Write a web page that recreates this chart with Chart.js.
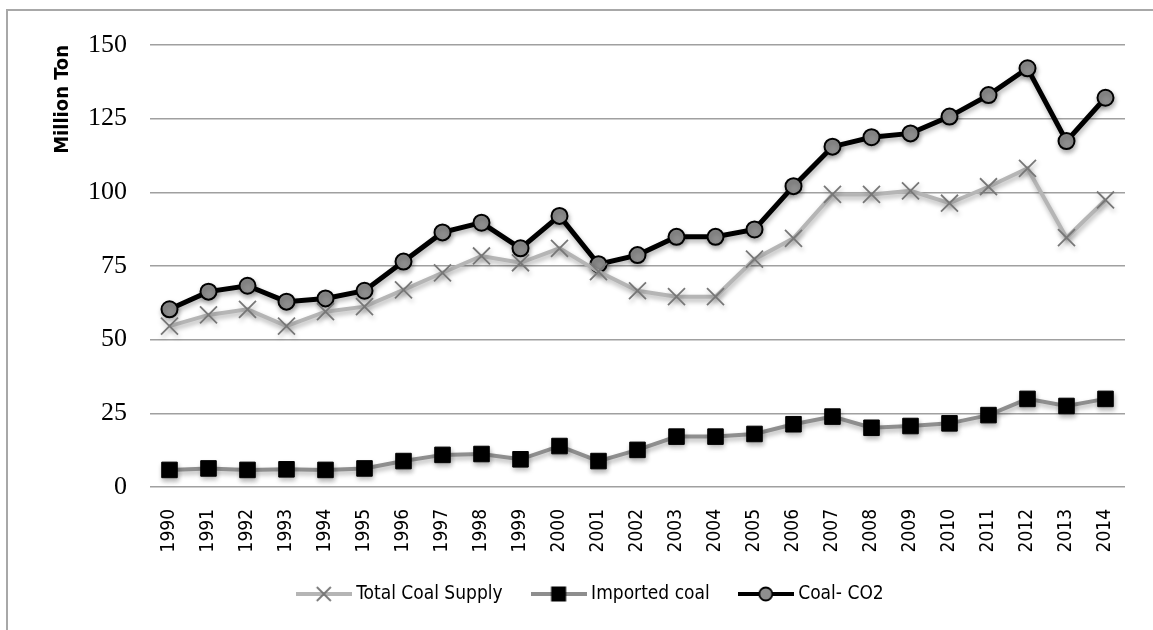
<!DOCTYPE html>
<html>
<head>
<meta charset="utf-8">
<script src="https://cdn.jsdelivr.net/npm/chart.js@4.4.0/dist/chart.umd.min.js"></script>
<style>
html, body { margin: 0; padding: 0; background: #fff; overflow: hidden; }
#frame { position: absolute; left: 6px; top: 9px; width: 1400px; height: 900px; border: 2px solid #a8a8a8; }
#wrap { position: absolute; left: 0; top: 0; width: 1153px; height: 630px; }
</style>
</head>
<body>
<div id="frame"></div>
<div id="wrap"><canvas id="chart" width="1153" height="630"></canvas></div>
<script>
// values (million ton)
const years = ['1990','1991','1992','1993','1994','1995','1996','1997','1998','1999','2000','2001','2002',
               '2003','2004','2005','2006','2007','2008','2009','2010','2011','2012','2013','2014'];
const totalCoalSupply = [54.6, 58.4, 60.3, 54.6, 59.5, 61.2, 66.9, 72.7, 78.4, 76.1, 81.0, 73.1, 66.6,
                         64.6, 64.6, 77.3, 84.4, 99.3, 99.3, 100.5, 96.3, 101.9, 108.1, 84.6, 97.4];
const importedCoal = [5.8, 6.3, 5.8, 6.0, 5.8, 6.3, 8.8, 10.9, 11.2, 9.4, 13.9, 8.8, 12.6,
                      17.1, 17.1, 18.0, 21.3, 23.9, 20.1, 20.7, 21.6, 24.4, 29.9, 27.5, 29.9];
const coalCO2 = [60.3, 66.3, 68.3, 62.9, 64.0, 66.6, 76.5, 86.4, 89.7, 81.0, 92.0, 75.6, 78.7,
                 84.9, 84.9, 87.4, 102.1, 115.5, 118.7, 120.0, 125.7, 133.0, 142.1, 117.4, 132.1];
const yTicks = [0, 25, 50, 75, 100, 125, 150];

const narrow = "'DejaVu Sans Condensed', 'Liberation Sans Narrow', sans-serif";

// little line+marker pictures for the legend
function legendSymbol(kind) {
  const c = document.createElement('canvas');
  c.width = 56; c.height = 22;
  const g = c.getContext('2d');
  g.lineWidth = 4;
  g.strokeStyle = kind == 'x' ? '#b5b5b5' : (kind == 'sq' ? '#8e8e8e' : '#000');
  g.beginPath(); g.moveTo(0, 11); g.lineTo(56, 11); g.stroke();
  if (kind == 'x') {
    g.strokeStyle = '#777'; g.lineWidth = 1.8;
    g.beginPath();
    g.moveTo(21, 4); g.lineTo(35, 18);
    g.moveTo(35, 4); g.lineTo(21, 18);
    g.stroke();
  } else if (kind == 'sq') {
    g.fillStyle = '#000';
    g.fillRect(20.5, 3.5, 15, 15);
  } else {
    g.fillStyle = '#8e8e8e'; g.strokeStyle = '#000'; g.lineWidth = 1.8;
    g.beginPath(); g.arc(28, 11, 6.5, 0, Math.PI * 2); g.fill(); g.stroke();
  }
  return c;
}
const symbols = [legendSymbol('x'), legendSymbol('sq'), legendSymbol('o')];

// soft drop shadow under lines and markers, like the original
const shadowPlugin = {
  id: 'shadow',
  beforeDatasetsDraw(chart) {
    const c = chart.ctx;
    c.save();
    c.shadowColor = 'rgba(0,0,0,0.3)';
    c.shadowBlur = 5;
    c.shadowOffsetX = 1;
    c.shadowOffsetY = 3;
  },
  afterDatasetsDraw(chart) {
    chart.ctx.restore();
  }
};

const ctx = document.getElementById('chart').getContext('2d');
const myChart = new Chart(ctx, {
  type: 'line',
  data: {
    labels: years,
    datasets: [{
      label: 'Total Coal Supply',
      data: totalCoalSupply,
      borderColor: '#b5b5b5',
      borderWidth: 4,
      pointStyle: 'crossRot',
      pointRadius: 12,
      pointBorderColor: '#777',
      pointBorderWidth: 1.8,
      fill: false,
      tension: 0
    }, {
      label: 'Imported coal',
      data: importedCoal,
      borderColor: '#8e8e8e',
      borderWidth: 4,
      pointStyle: 'rect',
      pointRadius: 11,
      pointBackgroundColor: '#000',
      pointBorderColor: '#000',
      pointBorderWidth: 1,
      fill: false,
      tension: 0
    }, {
      label: 'Coal- CO2',
      data: coalCO2,
      borderColor: '#000',
      borderWidth: 5,
      pointStyle: 'circle',
      pointRadius: 8,
      pointBackgroundColor: '#8e8e8e',
      pointBorderColor: '#000',
      pointBorderWidth: 2,
      fill: false,
      tension: 0
    }]
  },
  options: {
    responsive: false,
    animation: false,
    events: [],
    layout: { padding: { left: 59.5, right: 28, top: 45, bottom: 16.5 } },
    scales: {
      x: {
        offset: true,
        grid: { display: false },
        border: { display: false },
        ticks: {
          color: '#000',
          font: { family: narrow, size: 19 },
          minRotation: 90,
          maxRotation: 90,
          padding: 14
        },
        afterFit: function(scale) { scale.height = 64.5; }
      },
      y: {
        min: yTicks[0],
        max: yTicks[yTicks.length - 1],
        grid: { color: '#a0a0a0', lineWidth: 1.5, drawTicks: false },
        border: { display: false },
        ticks: {
          stepSize: 25,
          color: '#000',
          padding: 23,
          font: { family: "'Liberation Serif', 'DejaVu Serif', serif", size: 26 }
        },
        title: {
          display: true,
          text: 'Million Ton',
          align: 'end',
          color: '#000',
          font: { family: narrow, size: 20, weight: 'bold' },
          padding: { top: -8.5, bottom: 0 }
        },
        afterFit: function(scale) { scale.width = 90.5; }
      }
    },
    plugins: {
      tooltip: { enabled: false },
      legend: {
        position: 'bottom',
        labels: {
          color: '#000',
          font: { family: narrow, size: 19 },
          usePointStyle: true,
          pointStyleWidth: 46,
          padding: 33,
          generateLabels: function(chart) {
            const items = Chart.defaults.plugins.legend.labels.generateLabels(chart);
            items.forEach((it, i) => { it.pointStyle = symbols[i]; });
            return items;
          }
        }
      }
    }
  },
  plugins: [shadowPlugin]
});
</script>
</body>
</html>
